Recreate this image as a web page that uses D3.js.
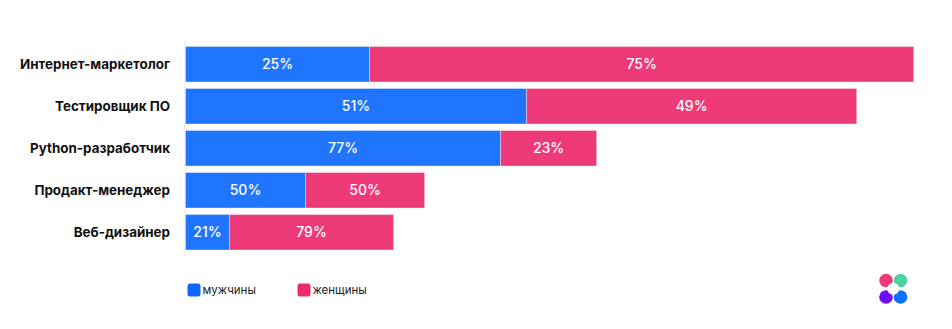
<!DOCTYPE html>
<html><head><meta charset="utf-8">
<script src="https://cdn.jsdelivr.net/npm/d3@7"></script>
<style>
html,body{margin:0;padding:0;background:#fff;}
svg{display:block;}
</style></head>
<body>
<svg id="chart" width="952" height="329"></svg>
<script>
const categories = ["Интернет-маркетолог","Тестировщик ПО","Python-разработчик","Продакт-менеджер","Веб-дизайнер"];
const seriesNames = ["мужчины","женщины"];
const maleValues = [184, 341, 315, 120, 44];
const femaleValues = [544, 330, 96, 119, 164];
const malePctLabels = ["25%","51%","77%","50%","21%"];
const femalePctLabels = ["75%","49%","23%","50%","79%"];
const colors = ["#1f75fe","#ee3a79"];
const legendColors = ["#0f66ff","#ec2a6c"];

const svg = d3.select("#chart");
const x0 = 185.5, x1 = 913.7;
const x = d3.scaleLinear().domain([0, 728]).range([x0, x1]);
const y = d3.scaleBand().domain(categories).range([46.5, 250]).paddingInner(0.155).paddingOuter(0);

const rows = categories.map((c,i)=>({cat:c, m:maleValues[i], f:femaleValues[i], mp:malePctLabels[i], fp:femalePctLabels[i]}));

// axis line
svg.append("line").attr("x1",x0-0.5).attr("x2",x0-0.5).attr("y1",40).attr("y2",256)
  .attr("stroke","#e6e6e6").attr("stroke-width",1);

const g = svg.append("g");
const font = "Inter, 'Open Sans', sans-serif";
rows.forEach(r=>{
  const yy = y(r.cat), h = y.bandwidth();
  g.append("rect").attr("x",x(0)).attr("y",yy).attr("width",x(r.m)-x(0)).attr("height",h)
    .attr("fill",colors[0]).attr("stroke","rgba(255,255,255,0.35)").attr("stroke-width",1);
  g.append("rect").attr("x",x(r.m)).attr("y",yy).attr("width",x(r.m+r.f)-x(r.m)).attr("height",h)
    .attr("fill",colors[1]).attr("stroke","rgba(255,255,255,0.35)").attr("stroke-width",1);
  g.append("text").attr("x",(x(0)+x(r.m))/2).attr("y",yy+h/2).attr("dy","0.36em")
    .attr("text-anchor","middle").attr("fill","#fff").attr("font-family",font)
    .attr("font-size",14).attr("font-weight",500).text(r.mp);
  g.append("text").attr("x",(x(r.m)+x(r.m+r.f))/2).attr("y",yy+h/2).attr("dy","0.36em")
    .attr("text-anchor","middle").attr("fill","#fff").attr("font-family",font)
    .attr("font-size",14).attr("font-weight",500).text(r.fp);
  g.append("text").attr("x",170).attr("y",yy+h/2).attr("dy","0.36em")
    .attr("text-anchor","end").attr("fill","#111").attr("font-family",font)
    .attr("font-size",13.4).attr("font-weight",700).text(r.cat);
});

// legend
const legX = [187.5, 297.5];
seriesNames.forEach((n,i)=>{
  svg.append("rect").attr("x",legX[i]).attr("y",283.5).attr("width",13).attr("height",13).attr("rx",2.5)
    .attr("fill",legendColors[i]);
  svg.append("text").attr("x",legX[i]+15).attr("y",290).attr("dy","0.36em")
    .attr("fill","#222").attr("font-family",font).attr("font-size",11.5).text(n);
});

// logo
const logo = svg.append("g");
[[886,280.5,"#ee3a79"],[900.5,280.5,"#4fd29d"],[886,297,"#6b0ff5"],[900.5,297,"#0f6fff"]].forEach(d=>{
  logo.append("circle").attr("cx",d[0]).attr("cy",d[1]).attr("r",6.8).attr("fill",d[2]);
});
logo.append("circle").attr("cx",893.25).attr("cy",288.75).attr("r",6).attr("fill","#fff");
</script>
</body></html>
